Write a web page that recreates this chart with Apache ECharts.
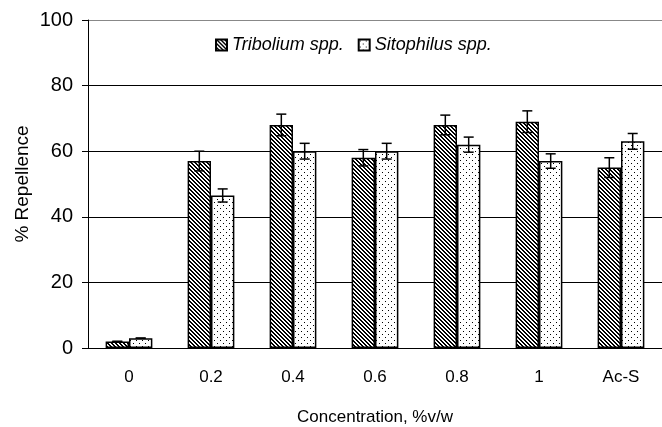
<!DOCTYPE html>
<html><head><meta charset="utf-8">
<script src="https://cdn.jsdelivr.net/npm/echarts@6/dist/echarts.min.js"></script>
<style>html,body{margin:0;padding:0;background:#fff}#c{width:662px;height:427px}</style>
</head><body><div id="c"></div>
<script>
const categories = ['0', '0.2', '0.4', '0.6', '0.8', '1', 'Ac-S'];
const tribolium = [2, 57, 68, 58, 68, 69, 55];
const triboliumErr = [0, 3, 3.3, 2.5, 3, 3.3, 3];
const sitophilus = [3, 46.5, 60, 60, 62, 57, 63];
const sitophilusErr = [0, 2, 2.4, 2.4, 2.3, 2.2, 2.4];
const seriesNames = ['Tribolium spp.', 'Sitophilus spp.'];

function hatchPattern() {
  const c = document.createElement('canvas');
  c.width = 4; c.height = 4;
  const g = c.getContext('2d');
  g.fillStyle = '#fff'; g.fillRect(0, 0, 4, 4);
  g.fillStyle = '#000';
  for (let i = 0; i < 4; i++) { g.fillRect(i, i, 1, 1); g.fillRect((i + 1) % 4, i, 1, 1); }
  return { image: c, repeat: 'repeat' };
}
function dotPattern() {
  const c = document.createElement('canvas');
  c.width = 6; c.height = 6;
  const g = c.getContext('2d');
  g.fillStyle = '#fff'; g.fillRect(0, 0, 6, 6);
  g.fillStyle = '#000';
  g.fillRect(1, 1, 1, 1); g.fillRect(4, 4, 1, 1);
  return { image: c, repeat: 'repeat' };
}
const FONT = '"Liberation Sans", Arial, sans-serif';
const OFF = 0.1425;
function errRenderer(sign) {
  return function (params, api) {
    const i = api.value(0), v = api.value(1), e = api.value(2);
    const band = api.size([1, 0])[0];
    const top = api.coord([i, v + e]);
    const bot = api.coord([i, v - e]);
    const x = top[0] + sign * band * OFF;
    const cap = 5;
    const st = { stroke: '#000', lineWidth: 1.5 };
    return { type: 'group', children: [
      { type: 'line', shape: { x1: x, y1: top[1], x2: x, y2: bot[1] }, style: st },
      { type: 'line', shape: { x1: x - cap, y1: top[1], x2: x + cap, y2: top[1] }, style: st },
      { type: 'line', shape: { x1: x - cap, y1: bot[1], x2: x + cap, y2: bot[1] }, style: st }
    ] };
  };
}
const chart = echarts.init(document.getElementById('c'), null, { renderer: 'canvas' });
chart.setOption({
  animation: false,
  backgroundColor: '#fff',
  textStyle: { fontFamily: FONT, color: '#000' },
  grid: { left: 88, top: 20, right: 0, bottom: 79, outerBoundsMode: 'none', containLabel: false },
  legend: {
    data: seriesNames,
    left: 210, top: 31,
    itemWidth: 11, itemHeight: 11, itemGap: 14,
    textStyle: { fontStyle: 'italic', fontSize: 18, color: '#000', fontFamily: FONT },
    icon: 'rect'
  },
  xAxis: {
    type: 'category', data: categories,
    name: 'Concentration, %v/w', nameLocation: 'middle', nameGap: 61, nameMoveOverlap: false,
    nameTextStyle: { fontSize: 17, color: '#000' },
    axisLine: { lineStyle: { color: '#000', width: 1 } },
    axisTick: { length: 6, lineStyle: { color: '#000' } },
    axisLabel: { fontSize: 17, color: '#000', margin: 21 }
  },
  yAxis: {
    type: 'value', min: 0, max: 100, interval: 20,
    name: '% Repellence', nameLocation: 'middle', nameGap: 56, nameMoveOverlap: false,
    nameTextStyle: { fontSize: 19, color: '#000' },
    axisLine: { show: true, lineStyle: { color: '#000', width: 1 } },
    axisTick: { show: true, length: 6, lineStyle: { color: '#000' } },
    axisLabel: { fontSize: 20, color: '#000', margin: 15 },
    splitLine: { show: true, lineStyle: { color: ['#000', '#000', '#000', '#000', '#000', '#888'], width: 1 } }
  },
  series: [
    { name: seriesNames[0], type: 'bar', data: tribolium, barGap: '0%', barCategoryGap: '43%',
      itemStyle: { color: hatchPattern(), borderColor: '#000', borderWidth: 1.5 } },
    { name: seriesNames[1], type: 'bar', data: sitophilus,
      itemStyle: { color: dotPattern(), borderColor: '#000', borderWidth: 1.5 } },
    { type: 'custom', z: 5, renderItem: errRenderer(-1),
      data: categories.map((c, i) => [i, tribolium[i], triboliumErr[i]]) },
    { type: 'custom', z: 5, renderItem: errRenderer(1),
      data: categories.map((c, i) => [i, sitophilus[i], sitophilusErr[i]]) }
  ]
});
</script></body></html>
